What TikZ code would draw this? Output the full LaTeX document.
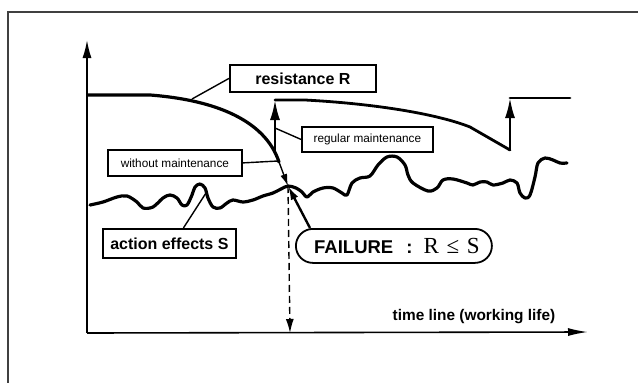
\documentclass[tikz,border=0pt]{standalone}
\usepackage{fontspec}
\setmainfont{Liberation Sans}
\newfontfamily\relfont{Liberation Serif}
\usetikzlibrary{arrows.meta,calc}

\begin{document}
\begin{tikzpicture}[x=1pt,y=-1pt,
  frame/.style={line width=1.1pt, draw=black!75},
  axis/.style={line width=1.6pt, -{Latex[length=18pt,width=9pt]}},
  thickcurve/.style={line width=3.2pt, line join=round, line cap=round},
  liftarrow/.style={line width=2.2pt, -{Latex[length=20pt,width=10pt]}},
  labelbox/.style={draw, line width=1.8pt, inner sep=0pt, anchor=north west},
  bigbold/.style={font=\fontsize{16}{19}\selectfont\bfseries},
  smalltext/.style={font=\fontsize{11.8}{14}\selectfont},
  leader/.style={line width=1.4pt},
]
\useasboundingbox (0,0) rectangle (638,383);

% outer frame
\draw[frame] (8,383) -- (8,12) -- (638,12);

% axes
\coordinate (origin) at (87,333);
\coordinate (ytop) at (87,40);
\coordinate (xend) at (588,332);
\draw[axis] (origin) -- (ytop);
\draw[axis, -{Latex[length=20pt,width=8pt]}] (origin) -- (xend);
\node[font=\fontsize{15.4}{18}\selectfont\bfseries] (tlabel) at (474,317) {time line (working life)};

% resistance without maintenance
\coordinate (rknee) at (192,99);
\coordinate (rend) at (279,162);
\coordinate (fail point) at (288,186);
\draw[thickcurve] (88,95) -- (150,95) .. controls (215,100) and (265,120) .. (rend);
\draw[line width=1.4pt, -{Latex[length=12pt,width=7pt]}] (rend) -- (fail point);

% resistance with regular maintenance
\coordinate (m1base) at (275,154);
\coordinate (m1top) at (275,100);
\coordinate (m2base) at (510,150);
\coordinate (m2top) at (510,98);
\coordinate (m2end) at (570,98);
\draw[liftarrow] (m1base) -- (m1top);
\draw[thickcurve, line width=2.8pt] (m1top) -- (305,100) .. controls (380,104) and (440,115) .. (470,127) -- (m2base);
\draw[liftarrow] (m2base) -- (m2top);
\draw[thickcurve, line width=2.8pt] (m2top) -- (m2end);

% action effects
\draw[thickcurve] plot[smooth, tension=0.55] coordinates {
 (90,205) (103,202) (117,197) (127,196) (137,202) (143,208) (153,207) (163,198)
 (170,195) (177,198) (182,205) (187,205) (192,195) (195,187) (200,184) (205,188)
 (208,198) (213,207) (220,208) (227,203) (233,200) (243,202) (253,200) (263,196)
 (273,193) (281,189) (288,186) (296,188) (302,192) (307,197) (313,192) (323,188)
 (333,188) (342,193) (347,195) (352,183) (360,178) (370,176) (378,165) (387,157)
 (397,157) (405,165) (408,175) (413,183) (428,191) (437,188) (443,180) (453,179)
 (467,183) (473,185) (480,182) (487,182) (493,185) (503,183) (510,180) (517,183)
 (520,193) (525,198) (530,195) (535,177) (538,163) (545,158) (553,160) (560,163)
 (567,163)};
\coordinate (speak) at (206,193);

% failure time
\coordinate (failtime) at (290,333);
\draw[line width=1.4pt, dash pattern=on 7pt off 4pt, -{Latex[length=14pt,width=8pt]}] (fail point) -- (failtime);

% labels
\node[labelbox, bigbold, minimum width=146pt, minimum height=27pt] (rbox) at (229,64) {resistance R};
\node[labelbox, smalltext, minimum width=131pt, minimum height=25pt] (regbox) at (301,126) {regular maintenance};
\node[labelbox, smalltext, minimum width=134pt, minimum height=26pt] (wbox) at (107,149) {without maintenance};
\node[labelbox, bigbold, minimum width=133pt, minimum height=29pt] (abox) at (102,228) {action effects S};
\node[draw, line width=1.8pt, rounded corners=17pt, inner sep=0pt, anchor=north west,
      minimum width=196pt, minimum height=34pt] (fail) at (295,228)
  {\hspace{6pt}\fontsize{18.5}{21}\selectfont\bfseries FAILURE\hspace{0.7em}:\hspace{0.6em}\relfont\mdseries\fontsize{23}{26}\selectfont R\,\,≤\,\,S};

\coordinate (mlead) at (275,128);
\coordinate (wlead) at (278,161);
\draw[leader] (rbox.west) -- (rknee);
\draw[leader] (regbox.west) -- (mlead);
\draw[leader] (wbox.east) -- (wlead);
\draw[leader] ($(abox.north)+(14,0)$) -- (speak);
\draw[line width=2.4pt, -{Latex[length=14pt,width=8pt]}] ($(fail.north west)+(15,0)$) -- (fail point);
\end{tikzpicture}
\end{document}
